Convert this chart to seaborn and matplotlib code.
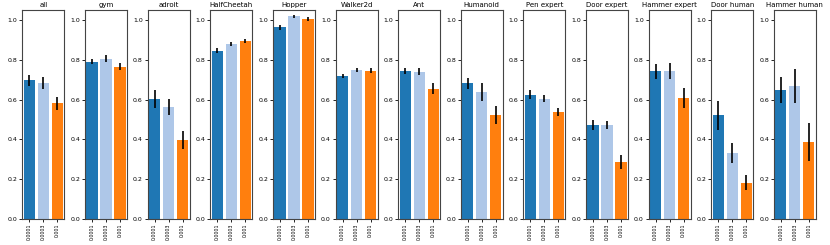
import matplotlib
matplotlib.use('Agg')
import pandas as pd
import matplotlib.pyplot as plt
import seaborn as sns
import numpy as np

envs = ['all', 'gym', 'adroit', 'HalfCheetah', 'Hopper', 'Walker2d', 'Ant',
        'Humanoid', 'Pen expert', 'Door expert', 'Hammer expert',
        'Door human', 'Hammer human']
lrs = ['0.0001', '0.0003', '0.001']

# mean score per env, one value per learning rate
score_1e4 = [0.697, 0.790, 0.603, 0.846, 0.963, 0.720, 0.745, 0.683, 0.625, 0.472, 0.742, 0.521, 0.648]
score_3e4 = [0.683, 0.806, 0.563, 0.879, 1.018, 0.749, 0.740, 0.638, 0.605, 0.472, 0.744, 0.330, 0.667]
score_1e3 = [0.581, 0.766, 0.399, 0.894, 1.005, 0.745, 0.655, 0.523, 0.536, 0.285, 0.608, 0.183, 0.385]

# half length of error bars
err_1e4 = [0.028, 0.013, 0.043, 0.011, 0.012, 0.011, 0.016, 0.028, 0.021, 0.025, 0.039, 0.074, 0.067]
err_3e4 = [0.030, 0.016, 0.042, 0.011, 0.009, 0.011, 0.018, 0.044, 0.017, 0.022, 0.042, 0.051, 0.086]
err_1e3 = [0.032, 0.018, 0.045, 0.012, 0.008, 0.012, 0.028, 0.044, 0.020, 0.035, 0.052, 0.039, 0.095]

colors = ['#1f77b4', '#aec7e8', '#ff7f0e']


if __name__ == "__main__":
    rows = []
    for i, env in enumerate(envs):
        for lr, s, e in zip(lrs, [score_1e4, score_3e4, score_1e3], [err_1e4, err_3e4, err_1e3]):
            rows.append({'env': env, 'lr': lr, 'score': s[i], 'err': e[i]})
    df = pd.DataFrame(rows)

    fig, axes = plt.subplots(1, len(envs), figsize=(8.3, 2.45), dpi=100)
    fig.subplots_adjust(left=0.027, right=0.983, top=0.959, bottom=0.106, wspace=0.49)

    for ax, env in zip(axes, envs):
        d = df[df.env == env]
        sns.barplot(data=d, x='lr', y='score', hue='lr', palette=colors, order=lrs,
                    errorbar=None, saturation=1, legend=False, width=0.8, ax=ax)
        ax.errorbar(np.arange(len(lrs)), d.score.values, yerr=d.err.values,
                    fmt='none', ecolor='black', elinewidth=1.2, capsize=0)
        ax.set_ylim(0, 1.05)
        ax.set_xlim(-0.5, 2.5)
        ax.set_yticks(np.arange(0, 1.01, 0.2))
        ax.set_title(env, fontsize=5, pad=2)
        ax.set_xlabel('')
        ax.set_ylabel('')
        ax.tick_params(axis='y', labelsize=4.5, length=2, width=0.6, pad=1.5)
        ax.tick_params(axis='x', labelsize=3.4, length=2, width=0.6, pad=1, rotation=90)
        for sp in ax.spines.values():
            sp.set_linewidth(0.8)
            sp.set_color('#444444')

    fig.savefig('out.png', dpi=100)
